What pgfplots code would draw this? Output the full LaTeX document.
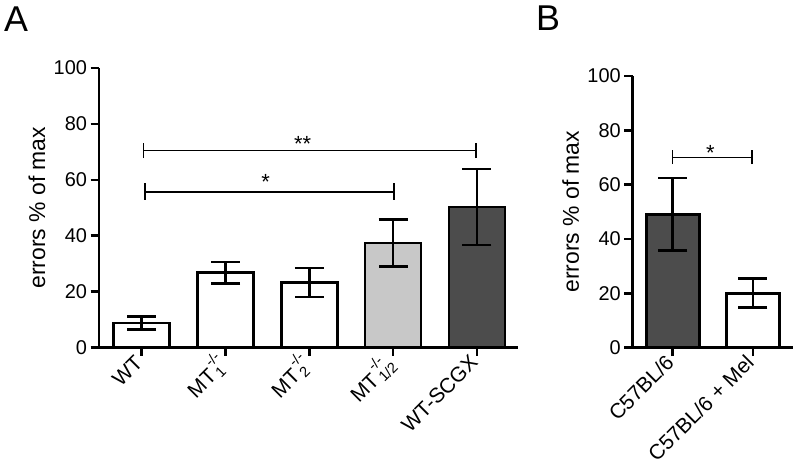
\documentclass[border=0pt]{standalone}
\usepackage{fontspec}
\setmainfont{Liberation Sans}
\usepackage{pgfplots}
\pgfplotsset{compat=1.18}
\definecolor{lightbar}{RGB}{200,200,200}
\definecolor{darkbar}{RGB}{76,76,76}
\newcommand{\subsup}[2]{\setbox0\hbox{\textsubscript{\,#1}}\setbox2\hbox{\textsuperscript{\raisebox{0.3em}{\,-/-}}}\ifdim\wd0>\wd2 \rlap{\box2}\box0\else\rlap{\box0}\box2\fi}
\pgfplotsset{
  panel/.style={
    scale only axis,
    clip=false,
    axis x line=bottom, axis y line=left,
    axis line style={line width=2.7bp,-},
    ymin=0, ymax=100, ytick={0,20,...,100},
    tick style={line width=2.7bp,black},
    major tick length=8.5bp,
    tick align=outside,
    xtick=data,
    /pgf/number format/assume math mode=true,
    yticklabel style={font=\fontsize{20}{24}\selectfont},
    xticklabel style={font=\fontsize{21}{25}\selectfont, rotate=45, anchor=east, inner sep=4bp},
    every axis y label/.style={at={(axis description cs:0,0.5)}, xshift=-62bp, rotate=90, anchor=center, font=\fontsize{23}{27}\selectfont},
    ylabel={errors \% of max},
  },
  bar/.style={ybar, bar shift=0pt, draw=black, line width=2.7bp, fill=#1,
    error bars/.cd, y dir=both, y explicit,
    error bar style={line width=2.7bp,black},
    error mark options={rotate=90,line width=2.7bp,black,mark size=14.5bp}},
}
\begin{document}
\begin{tikzpicture}
\path[use as bounding box] (0,0) rectangle (800bp,475bp);
\node[anchor=north west, inner sep=0pt, font=\fontsize{36}{40}\selectfont] at (4bp,468bp) {A};
\node[anchor=north west, inner sep=0pt, font=\fontsize{36}{40}\selectfont] at (536bp,469bp) {B};
\begin{axis}[panel, at={(99bp,127.5bp)}, anchor=south west,
  width=419bp, height=279.4bp, xmin=-0.51, xmax=4.49,
  xtick={0,1,2,3,4},
  xticklabels={WT, MT\subsup{1}{-/-}, MT\subsup{2}{-/-}, MT\subsup{1/2}{-/-}, WT-SCGX}]
\addplot[bar width=56bp, bar=white] coordinates {(0,8.8) +- (0,2.3)};
\addplot[bar width=56bp, bar=white] coordinates {(1,26.8) +- (0,3.8)};
\addplot[bar width=56bp, bar=white] coordinates {(2,23.3) +- (0,5.2)};
\addplot[bar width=56bp, bar=lightbar] coordinates {(3,37.4) +- (0,8.3)};
\addplot[bar width=56bp, bar=darkbar] coordinates {(4,50.3) +- (0,13.6)};
\draw[line width=1.4bp] (axis cs:0.02,67.8) -- (axis cs:0.02,73.1);
\draw[line width=1.4bp] (axis cs:0.02,70.4) -- (axis cs:3.99,70.4);
\draw[line width=1.4bp] (axis cs:3.99,67.8) -- (axis cs:3.99,73.1);
\draw[line width=1.4bp] (axis cs:0.04,52.9) -- (axis cs:0.04,58.8);
\draw[line width=1.4bp] (axis cs:0.04,55.7) -- (axis cs:3.01,55.7);
\draw[line width=1.4bp] (axis cs:3.01,52.9) -- (axis cs:3.01,58.8);
\node[anchor=base, inner sep=0pt, font=\fontsize{22}{26}\selectfont] at (axis cs:1.92,70.2) {**};
\node[anchor=base, inner sep=0pt, font=\fontsize{22}{26}\selectfont] at (axis cs:1.48,56.6) {*};
\end{axis}
\begin{axis}[panel, at={(632.7bp,127.5bp)}, anchor=south west,
  width=160.3bp, height=271.6bp, xmin=-0.5, xmax=1.5,
  xtick={0,1},
  xticklabels={C57BL/6, C57BL/6 + Mel}]
\addplot[bar width=53bp, bar=darkbar] coordinates {(0,49.0) +- (0,13.4)};
\addplot[bar width=53bp, bar=white] coordinates {(1,20.0) +- (0,5.4)};
\draw[line width=1.4bp] (axis cs:0,67.5) -- (axis cs:0,72.9);
\draw[line width=1.4bp] (axis cs:0,70.0) -- (axis cs:0.99,70.0);
\draw[line width=1.4bp] (axis cs:0.99,67.5) -- (axis cs:0.99,72.9);
\node[anchor=base, inner sep=0pt, font=\fontsize{22}{26}\selectfont] at (axis cs:0.47,69.0) {*};
\end{axis}
\end{tikzpicture}
\end{document}
